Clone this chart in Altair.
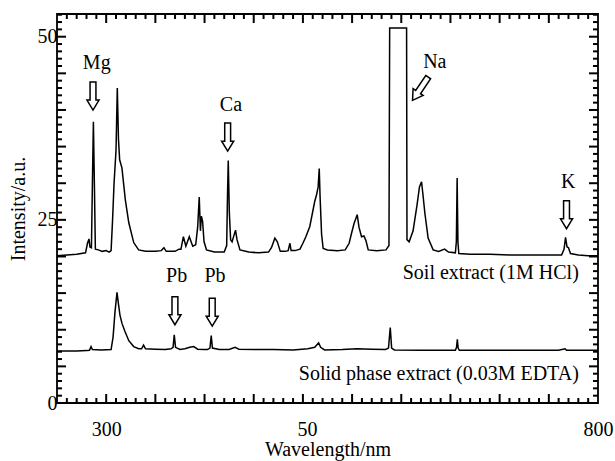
import altair as alt
import pandas as pd

# ---- Soil extract (1M HCl) spectrum ----
soil_wl = [250, 260, 270, 279, 281, 282.5, 283.5, 285, 286, 287, 288, 289, 292, 296, 300, 303, 305,
           306.5, 308, 310, 311.3, 312.5, 313.7, 316, 319.5, 323, 328, 333, 340, 350, 356, 358.7, 361,
           370, 374, 376, 378.5, 381, 384.5, 388, 391, 393, 394.6, 395.8, 396.8, 398, 399.5, 402, 410,
           420, 422.5, 423.3, 424.1, 425.2, 426.5, 428, 431.5, 433, 436, 445, 455, 465, 468, 471.5, 474,
           477, 482, 485, 486.8, 488, 492, 497, 500, 503, 507, 512, 514, 515.5, 516.6, 517.5, 519, 520.6,
           525, 535, 543, 547, 549.5, 552, 555.2, 557, 559.6, 562, 564, 566.4, 575, 584.5, 587.5, 588.2,
           605.4, 605.8, 608, 612, 616, 618.5, 620.6, 622, 624, 627.3, 632.4, 638, 644, 648, 655, 656,
           656.8, 657.6, 658.5, 670, 690, 710, 730, 750, 763, 765.5, 767, 768.5, 770, 772, 780, 790, 800]
soil_int = [20.1, 20.2, 20.3, 20.5, 21.8, 22.4, 21.3, 21.2, 30.0, 38.4, 30.0, 21.0, 20.9, 20.7, 20.8, 20.6, 20.8,
            25.0, 30.0, 34.5, 43.0, 36.0, 33.2, 32.1, 27.7, 24.6, 21.9, 20.9, 20.7, 20.7, 20.8, 21.2, 20.7,
            20.7, 21.0, 21.0, 22.7, 21.4, 22.7, 21.4, 21.6, 24.0, 28.1, 23.5, 25.5, 24.8, 22.0, 20.9, 20.6,
            20.6, 21.5, 28.0, 33.1, 26.0, 22.3, 22.0, 23.6, 22.3, 20.9, 20.6, 20.5, 20.6, 21.2, 22.5, 22.0,
            20.7, 20.7, 20.8, 21.8, 20.8, 20.8, 21.0, 21.8, 22.7, 24.1, 27.5, 28.5, 29.5, 32.0, 28.0, 23.0, 21.1,
            20.9, 20.8, 20.9, 21.8, 23.2, 24.5, 25.7, 24.0, 22.7, 22.8, 22.2, 20.9, 20.8, 20.9, 21.5, 51.2,
            51.2, 22.3, 22.0, 23.5, 27.0, 29.5, 30.2, 28.5, 25.9, 22.5, 20.9, 20.7, 21.0, 20.6, 20.5, 22.0,
            30.7, 22.0, 20.4, 20.3, 20.3, 20.2, 20.2, 20.2, 20.2, 21.0, 22.6, 21.3, 21.2, 20.4, 20.2, 20.1, 20.1]

# ---- Solid phase extract (0.03M EDTA) spectrum ----
edta_wl = [250, 270, 280, 283, 284.6, 286, 295, 305, 307, 309, 311, 312.5, 314, 316, 319, 323, 328, 333,
           336, 338, 340, 350, 360, 366, 368, 369.2, 370.5, 375, 380, 385, 389, 393, 400, 403, 405.5, 406.8,
           408, 415, 425, 431, 435, 450, 470, 490, 505, 512, 516, 518, 522, 540, 555, 570, 584, 587, 588.8,
           590.2, 593, 620, 640, 655, 656.2, 657, 657.8, 659, 680, 720, 760, 766.5, 768, 800]
edta_int = [7.1, 7.1, 7.15, 7.2, 7.7, 7.3, 7.25, 7.3, 9.0, 12.5, 15.1, 13.5, 12.0, 10.9, 9.8, 8.5, 7.7, 7.4,
            7.4, 7.9, 7.4, 7.35, 7.3, 7.4, 7.6, 9.3, 7.6, 7.3, 7.4, 7.6, 7.7, 7.35, 7.3, 7.3, 7.5, 9.2,
            7.5, 7.3, 7.3, 7.6, 7.35, 7.3, 7.3, 7.25, 7.4, 7.6, 8.2, 7.6, 7.25, 7.3, 7.4, 7.35, 7.3, 7.5, 10.3,
            7.5, 7.25, 7.2, 7.2, 7.2, 7.6, 8.7, 7.5, 7.2, 7.2, 7.2, 7.2, 7.4, 7.2, 7.2]

# ---- annotations ----
label_text = ["Mg", "Ca", "Na", "K", "Pb", "Pb"]
label_wl = [290.4, 426.8, 634.1, 769.6, 371.6, 410.6]
label_int = [46.4, 40.7, 46.6, 30.2, 17.3, 17.3]

arrow_wl = [286.6, 423.5, 619.4, 768.0, 369.9, 407.8]
arrow_int = [41.9, 36.3, 42.9, 25.7, 12.6, 12.4]
arrow_angle = [0, 0, 34, 0, 0, 0]

series_text = ["Soil extract (1M HCl)", "Solid phase extract (0.03M EDTA)"]
series_wl = [780.5, 780.5]
series_int = [17.8, 4.0]

# ---- axis ticks ----
x_labels = [300, 500, 800]
x_major = [300, 350, 400, 450, 500, 550, 600, 650, 700, 750]
x_minor = [v for v in range(260, 800, 10) if v % 50 != 0]
y_labels = [0, 25, 50]
y_major = [5, 10, 15, 20, 25, 30, 35, 40, 45, 50]
y_minor = [v for v in range(1, 54) if v % 5 != 0]

FONT = "Liberation Serif"
XDOM = [250, 800]
YDOM = [0, 53.1]
W, H = 541, 389
MAJ = 9
MIN = 5

soil = pd.DataFrame({"wl": soil_wl, "v": soil_int})
edta = pd.DataFrame({"wl": edta_wl, "v": edta_int})
labels = pd.DataFrame({"t": label_text, "wl": label_wl, "v": label_int})
arrows = pd.DataFrame({"wl": arrow_wl, "v": arrow_int, "a": arrow_angle})
series = pd.DataFrame({"t": series_text, "wl": series_wl, "v": series_int})

xs = alt.Scale(domain=XDOM, nice=False, zero=False)
ys = alt.Scale(domain=YDOM, nice=False, zero=False)

x_axis = alt.Axis(
    orient="bottom", values=x_labels, domain=False, grid=False, ticks=False,
    labelExpr="datum.value == 500 ? '50' : datum.label",
    labelOffset={"condition": {"test": "datum.value === 500", "value": 4}, "value": 0},
    labelFont=FONT, labelFontSize=20, labelColor="black", labelPadding=16,
    labelFlush=False, labelOverlap=False,
    title="Wavelength/nm", titleFont=FONT, titleFontSize=20, titleFontWeight="normal",
    titleColor="black", titlePadding=0,
)
y_axis = alt.Axis(
    orient="left", values=y_labels, domain=False, grid=False, ticks=False,
    labelFont=FONT, labelFontSize=20, labelColor="black", labelPadding=0,
    labelFlush=False, labelOverlap=False,
    title="Intensity/a.u.", titleFont=FONT, titleFontSize=20, titleFontWeight="normal",
    titleColor="black", titlePadding=9,
)

soil_line = alt.Chart(soil).mark_line(color="black", strokeWidth=1.5).encode(
    x=alt.X("wl:Q", scale=xs, axis=x_axis),
    y=alt.Y("v:Q", scale=ys, axis=y_axis),
    order="wl:Q",
)
edta_line = alt.Chart(edta).mark_line(color="black", strokeWidth=1.5).encode(
    x=alt.X("wl:Q", scale=xs),
    y=alt.Y("v:Q", scale=ys),
    order="wl:Q",
)


def x_ticks(values, length, side):
    df = pd.DataFrame({"tick": values})
    if side == "bottom":
        yy, yy2 = alt.value(H - length), alt.value(H)
    else:
        yy, yy2 = alt.value(0), alt.value(length)
    return alt.Chart(df).mark_rule(stroke="#000000", strokeWidth=2, opacity=1).encode(
        x=alt.X("tick:Q", scale=xs), y=yy, y2=yy2
    )


def y_ticks(values, length, side):
    df = pd.DataFrame({"tick": values})
    if side == "left":
        xx, xx2 = alt.value(0), alt.value(length)
    else:
        xx, xx2 = alt.value(W - length), alt.value(W)
    return alt.Chart(df).mark_rule(stroke="#000000", strokeWidth=2, opacity=1).encode(
        y=alt.Y("tick:Q", scale=ys), x=xx, x2=xx2
    )


tick_layers = [
    x_ticks(x_major, MAJ, "bottom"), x_ticks(x_minor, MIN, "bottom"),
    x_ticks(x_major, MAJ, "top"), x_ticks(x_minor, MIN, "top"),
    y_ticks(y_major, MAJ, "left"), y_ticks(y_minor, MIN, "left"),
    y_ticks(y_major, MAJ, "right"), y_ticks(y_minor, MIN, "right"),
]

arrow_path = "M -0.21 -1 L 0.21 -1 L 0.21 0.29 L 0.43 0.29 L 0 1 L -0.43 0.29 L -0.21 0.29 Z"
arrow_pts = alt.Chart(arrows).mark_point(
    shape=arrow_path, size=784, filled=True, fill="white", stroke="black",
    strokeWidth=1.5, opacity=1,
).encode(
    x=alt.X("wl:Q", scale=xs),
    y=alt.Y("v:Q", scale=ys),
    angle=alt.Angle("a:Q", scale=None),
)

label_txt = alt.Chart(labels).mark_text(
    font=FONT, fontSize=20, color="black", align="center", baseline="middle"
).encode(
    x=alt.X("wl:Q", scale=xs),
    y=alt.Y("v:Q", scale=ys),
    text="t:N",
)

series_txt = alt.Chart(series).mark_text(
    font=FONT, fontSize=20, color="black", align="right", baseline="middle"
).encode(
    x=alt.X("wl:Q", scale=xs),
    y=alt.Y("v:Q", scale=ys),
    text="t:N",
)

chart = alt.layer(
    soil_line, edta_line, *tick_layers, arrow_pts, label_txt, series_txt
).properties(
    width=W, height=H, autosize="none",
    padding={"left": 57, "top": 14, "right": 17, "bottom": 58},
).configure_view(
    stroke="black", strokeWidth=1.8
)

chart.save("out.html", embed_options={"renderer": "svg", "actions": False})
